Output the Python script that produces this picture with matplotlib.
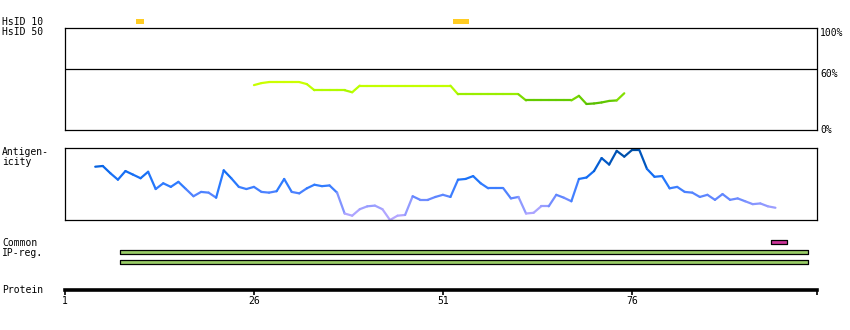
import numpy as np
import matplotlib
matplotlib.use("Agg")
import matplotlib.pyplot as plt
from matplotlib.collections import LineCollection
from matplotlib.colors import LinearSegmentedColormap

# Data (residue positions)
protein_end = 100.5
axis_ticks = [1, 26, 51, 76]

hsid10_regions = [(10.4, 11.5), (52.3, 54.4)]
common_regions = [(94.4, 96.5)]
ipreg_regions = [(8.3, 99.3), (8.3, 99.3)]

identity_res = np.arange(26, 76)
identity_pct = [44, 46, 47, 47, 47, 47, 47, 45, 39, 39,
                39, 39, 39, 37, 43.5, 43.5, 43.5, 43.5, 43.5, 43.5,
                43.5, 43.5, 43.5, 43.5, 43.5, 43.5, 43.5, 35, 35, 35,
                35, 35, 35, 35, 35, 35, 29, 29, 29, 29,
                29, 29, 29, 33.5, 25.5, 26, 27, 28.5, 29, 36]

antigen_res = np.arange(5, 96)
antigen_score = [74, 75, 65, 56, 68, 63, 58, 67, 43, 51,
                 46, 53, 43, 33, 39, 38, 31, 69, 58, 46,
                 43, 46, 39, 38, 40, 57, 39, 37, 44, 49,
                 47, 48, 38, 9, 6, 15, 19, 20, 15, 0,
                 6, 7, 33, 28, 28, 32, 35, 32, 56, 57,
                 61, 51, 44, 44, 44, 30, 32, 9, 10, 19,
                 19, 35, 31, 26, 57, 59, 68, 86, 77, 96,
                 88, 97, 97, 71, 60, 61, 44, 46, 39, 38,
                 32, 35, 28, 36, 28, 30, 26, 22, 23, 19, 17]

W, H = 850, 330
fig = plt.figure(figsize=(W / 100, H / 100), dpi=100)
mono = "DejaVu Sans Mono"


def px_axes(x0, y0, x1, y1):
    ax = fig.add_axes([x0 / W, 1 - y1 / H, (x1 - x0) / W, (y1 - y0) / H])
    ax.set_xlim(1, protein_end)
    return ax


def label(x, y, s, **kw):
    fig.text(x / W, 1 - y / H, s, fontsize=7, family=mono, va="center", **kw)


def colored_line(ax, x, y, cmap, vmin, vmax):
    pts = np.column_stack([x, y]).reshape(-1, 1, 2)
    segs = np.concatenate([pts[:-1], pts[1:]], axis=1)
    y = np.asarray(y, dtype=float)
    mid = (y[:-1] + y[1:]) / 2
    lc = LineCollection(segs, cmap=cmap, norm=plt.Normalize(vmin, vmax),
                        linewidths=1.6, clip_on=False, capstyle="round")
    lc.set_array(mid)
    ax.add_collection(lc)


def bare(ax):
    ax.set_ylim(0, 1)
    ax.set_xticks([])
    ax.set_yticks([])
    for s in ax.spines.values():
        s.set_visible(False)


# HsID 10 track
ax_h = px_axes(65, 19, 817, 24)
bare(ax_h)
for a, b in hsid10_regions:
    ax_h.broken_barh([(a, b - a)], (0, 1), facecolor="#ffcc22", edgecolor="none")

# Identity panel
ax_i = px_axes(65, 28, 817, 130)
ax_i.set_ylim(0, 100)
ax_i.set_xticks([])
ax_i.set_yticks([])
for s in ax_i.spines.values():
    s.set_linewidth(0.9)
ax_i.axhline(60, color="black", lw=0.9)
id_cmap = LinearSegmentedColormap.from_list(
    "ident", [(0, "#55bb00"), (0.2, "#66cc00"), (0.45, "#99ee00"),
              (0.7, "#bbff00"), (1, "#ccff00")])
colored_line(ax_i, identity_res, identity_pct, id_cmap, 25, 47)
for v, t, va in [(100, "100%", "top"), (60, "60%", "top"), (0, "0%", "center")]:
    ax_i.text(1.004, v, t, transform=ax_i.get_yaxis_transform(),
              fontsize=7, family=mono, va=va, ha="left")

# Antigenicity panel
ax_a = px_axes(65, 148, 817, 220)
ax_a.set_ylim(0, 100)
ax_a.set_xticks([])
ax_a.set_yticks([])
for s in ax_a.spines.values():
    s.set_linewidth(0.9)
ag_cmap = LinearSegmentedColormap.from_list(
    "antigen", [(0, "#b8a8ff"), (0.15, "#a8a4ff"), (0.3, "#6688ff"),
                (0.5, "#2a7aff"), (0.7, "#0a68ee"), (0.85, "#0055bb"),
                (1, "#004c9c")])
colored_line(ax_a, antigen_res, antigen_score, ag_cmap, 0, 100)

# Common / IP-reg tracks
ax_c = px_axes(65, 240, 817, 244)
bare(ax_c)
for a, b in common_regions:
    ax_c.broken_barh([(a, b - a)], (0, 1), facecolor="#cc3399",
                     edgecolor="black", lw=0.9, clip_on=False)
for i, (a, b) in enumerate(ipreg_regions):
    y0 = 250 + 10 * i
    ax_r = px_axes(65, y0, 817, y0 + 4)
    bare(ax_r)
    ax_r.broken_barh([(a, b - a)], (0, 1), facecolor="#99cc66",
                     edgecolor="black", lw=0.9, clip_on=False)

# Protein axis
ax_p = px_axes(65, 280, 817, 290)
ax_p.set_yticks([])
for k in ("top", "left", "right"):
    ax_p.spines[k].set_visible(False)
ax_p.spines["bottom"].set_linewidth(2.6)
ax_p.set_xticks(axis_ticks + [protein_end],
                labels=[str(t) for t in axis_ticks] + [""])
ax_p.tick_params(axis="x", direction="out", length=3.5, width=1.2, pad=1,
                 labelsize=7)
for t in ax_p.get_xticklabels():
    t.set_family(mono)

# Left labels
label(2, 22, "HsID 10")
label(2, 32, "HsID 50")
label(2, 152, "Antigen-")
label(2, 162, "icity")
label(2, 243, "Common")
label(2, 253, "IP-reg.")
label(2, 290, "Protein")

fig.savefig("out.png", dpi=100)
